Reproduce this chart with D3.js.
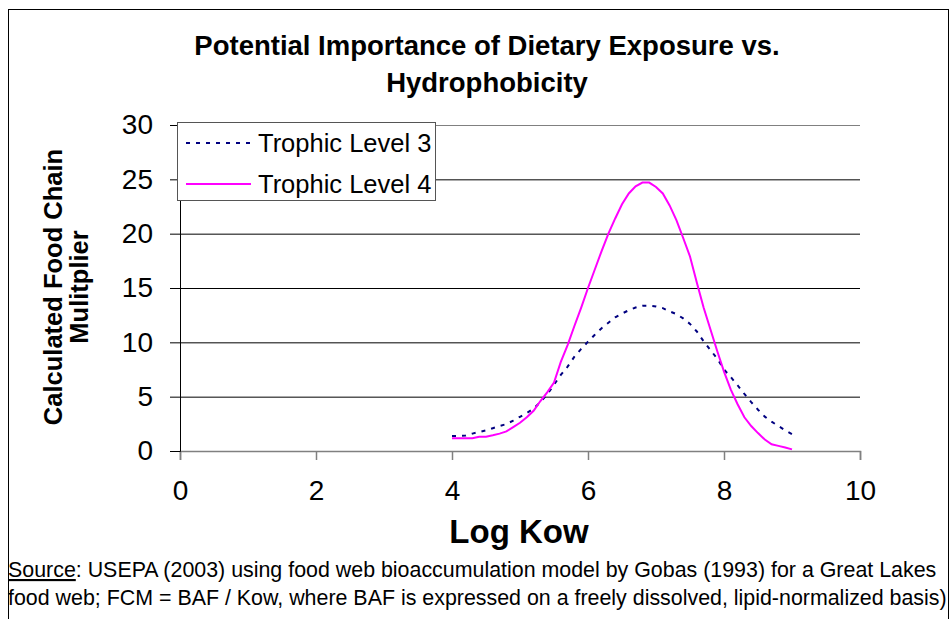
<!DOCTYPE html>
<html>
<head>
<meta charset="utf-8">
<script src="https://cdn.jsdelivr.net/npm/d3@7"></script>
<style>
  body { margin: 0; background: #fff; }
  svg { font-family: "Liberation Sans", Arial, sans-serif; }
</style>
</head>
<body>
<svg id="chart" width="951" height="619"></svg>
<script>
// data (Log Kow vs food chain multiplier)
const logKow = [4.0, 4.1, 4.2, 4.3, 4.4, 4.5, 4.6, 4.7, 4.8, 4.9,
                5.0, 5.1, 5.2, 5.3, 5.4, 5.5, 5.6, 5.7, 5.8, 5.9,
                6.0, 6.1, 6.2, 6.3, 6.4, 6.5, 6.6, 6.7, 6.8, 6.9,
                7.0, 7.1, 7.2, 7.3, 7.4, 7.5, 7.6, 7.7, 7.8, 7.9,
                8.0, 8.1, 8.2, 8.3, 8.4, 8.5, 8.6, 8.7, 8.8, 8.9, 9.0];
const trophic3 = [1.38, 1.38, 1.42, 1.6, 1.75, 1.9, 2.1, 2.3, 2.48, 2.8,
                  3.15, 3.5, 3.9, 4.5, 5.2, 6.1, 7.0, 7.76, 8.68, 9.4,
                  10.06, 10.7, 11.3, 11.8, 12.3, 12.65, 12.95, 13.2, 13.37, 13.37,
                  13.3, 13.15, 12.85, 12.6, 12.2, 11.7, 11.0, 10.1, 9.3, 8.5,
                  7.5, 6.8, 6.05, 5.25, 4.5, 3.8, 3.16, 2.7, 2.3, 1.9, 1.55];
const trophic4 = [1.17, 1.17, 1.17, 1.17, 1.32, 1.32, 1.45, 1.6, 1.8, 2.2,
                  2.6, 3.1, 3.7, 4.6, 5.4, 6.3, 8.2, 9.75, 11.5, 13.2,
                  15.0, 16.7, 18.4, 20.0, 21.4, 22.7, 23.7, 24.35, 24.7, 24.7,
                  24.3, 23.7, 22.6, 21.25, 19.6, 17.9, 15.5, 13.2, 11.2, 9.2,
                  7.3, 5.65, 4.3, 3.1, 2.3, 1.65, 1.05, 0.62, 0.47, 0.33, 0.15];
const seriesNames = ["Trophic Level 3", "Trophic Level 4"];
const xTicks = [0, 2, 4, 6, 8, 10];
const yTicks = [0, 5, 10, 15, 20, 25, 30];

const svg = d3.select("#chart");

// outer frame
svg.append("rect")
   .attr("x", 8.5).attr("y", 9.5)
   .attr("width", 940).attr("height", 620)
   .attr("fill", "none").attr("stroke", "#000").attr("stroke-width", 1);

let plotLeft = 180, plotRight = 860, plotTop = 125, plotBottom = 451;
let xScale = d3.scaleLinear().domain([0, 10]).range([plotLeft, plotRight]);
let yScale = d3.scaleLinear().domain([0, 30]).range([plotBottom, plotTop]);

// title
svg.append("text")
   .attr("x", 487).attr("text-anchor", "middle")
   .style("font-weight", "bold").style("font-size", "27.5px")
   .selectAll("tspan")
   .data(["Potential Importance of Dietary Exposure vs.", "Hydrophobicity"])
   .enter().append("tspan")
   .attr("x", 487)
   .attr("y", (d, i) => 55 + i * 37)
   .text(d => d);

// gridlines
svg.append("g")
   .selectAll("line")
   .data(yTicks.filter(d => d > 0))
   .enter().append("line")
   .attr("x1", plotLeft).attr("x2", plotRight)
   .attr("y1", d => yScale(d) + 0.5).attr("y2", d => yScale(d) + 0.5)
   .attr("stroke", (d) => d == 30 ? "#808080" : "#000").attr("stroke-width", 1);

// axes
let xAxis = svg.append("g")
   .attr("transform", "translate(0," + plotBottom + ")")
   .call(d3.axisBottom(xScale).tickValues(xTicks).tickSize(9).tickPadding(20));
xAxis.select(".domain").attr("stroke", "#808080").attr("stroke-width", 1.5);
xAxis.selectAll(".tick line").attr("stroke", "#808080").attr("stroke-width", 1.5);
xAxis.selectAll("text")
     .style("font-size", "28px").attr("fill", "#000")
     .style("font-family", "Liberation Sans, Arial, sans-serif");

let yAxis = svg.append("g")
   .attr("transform", "translate(" + plotLeft + ",0)")
   .call(d3.axisLeft(yScale).tickValues(yTicks).tickSize(10).tickPadding(17));
yAxis.select(".domain").attr("stroke", "#000");
yAxis.selectAll(".tick line").attr("stroke", "#000");
yAxis.selectAll("text")
     .style("font-size", "28px").attr("fill", "#000")
     .style("font-family", "Liberation Sans, Arial, sans-serif");

// axis titles
svg.append("text")
   .attr("x", 519).attr("y", 543)
   .attr("text-anchor", "middle")
   .style("font-weight", "bold").style("font-size", "33px")
   .text("Log Kow");

svg.append("text")
   .attr("transform", "translate(62,287) rotate(-90)")
   .attr("text-anchor", "middle")
   .style("font-weight", "bold").style("font-size", "25.5px")
   .text("Calculated Food Chain");
svg.append("text")
   .attr("transform", "translate(88,287) rotate(-90)")
   .attr("text-anchor", "middle")
   .style("font-weight", "bold").style("font-size", "25.5px")
   .text("Mulitplier");

// lines
let line = d3.line()
   .x((d, i) => xScale(logKow[i]))
   .y(d => yScale(d));

svg.append("path")
   .datum(trophic3)
   .attr("d", line)
   .attr("fill", "none")
   .attr("stroke", "#000080").attr("stroke-width", 2)
   .attr("stroke-dasharray", "4,6");

svg.append("path")
   .datum(trophic4)
   .attr("d", line)
   .attr("fill", "none")
   .attr("stroke", "#ff00ff").attr("stroke-width", 2);

// legend
let legend = svg.append("g");
legend.append("rect")
   .attr("x", 177.5).attr("y", 122.5)
   .attr("width", 258).attr("height", 78)
   .attr("fill", "#fff").attr("stroke", "#555");
let rows = legend.selectAll("g.row")
   .data(seriesNames)
   .enter().append("g")
   .attr("transform", (d, i) => "translate(0," + (143 + i * 41) + ")");
rows.append("line")
   .attr("x1", 186).attr("x2", 251)
   .attr("stroke", (d, i) => i == 0 ? "#000080" : "#ff00ff")
   .attr("stroke-width", 2)
   .attr("stroke-dasharray", (d, i) => i == 0 ? "4,6" : null);
rows.append("text")
   .attr("x", 258).attr("y", 9)
   .style("font-size", "25.5px")
   .text(d => d);

// source note
let note = svg.append("text")
   .attr("x", 8).attr("y", 577)
   .style("font-size", "21.4px");
note.append("tspan").style("text-decoration", "underline").text("Source");
note.append("tspan").text(": USEPA (2003) using food web bioaccumulation model by Gobas (1993) for a Great Lakes");
svg.append("text")
   .attr("x", 8).attr("y", 605)
   .style("font-size", "21.4px")
   .text("food web; FCM = BAF / Kow, where BAF is expressed on a freely dissolved, lipid-normalized basis)");
</script>
</body>
</html>
